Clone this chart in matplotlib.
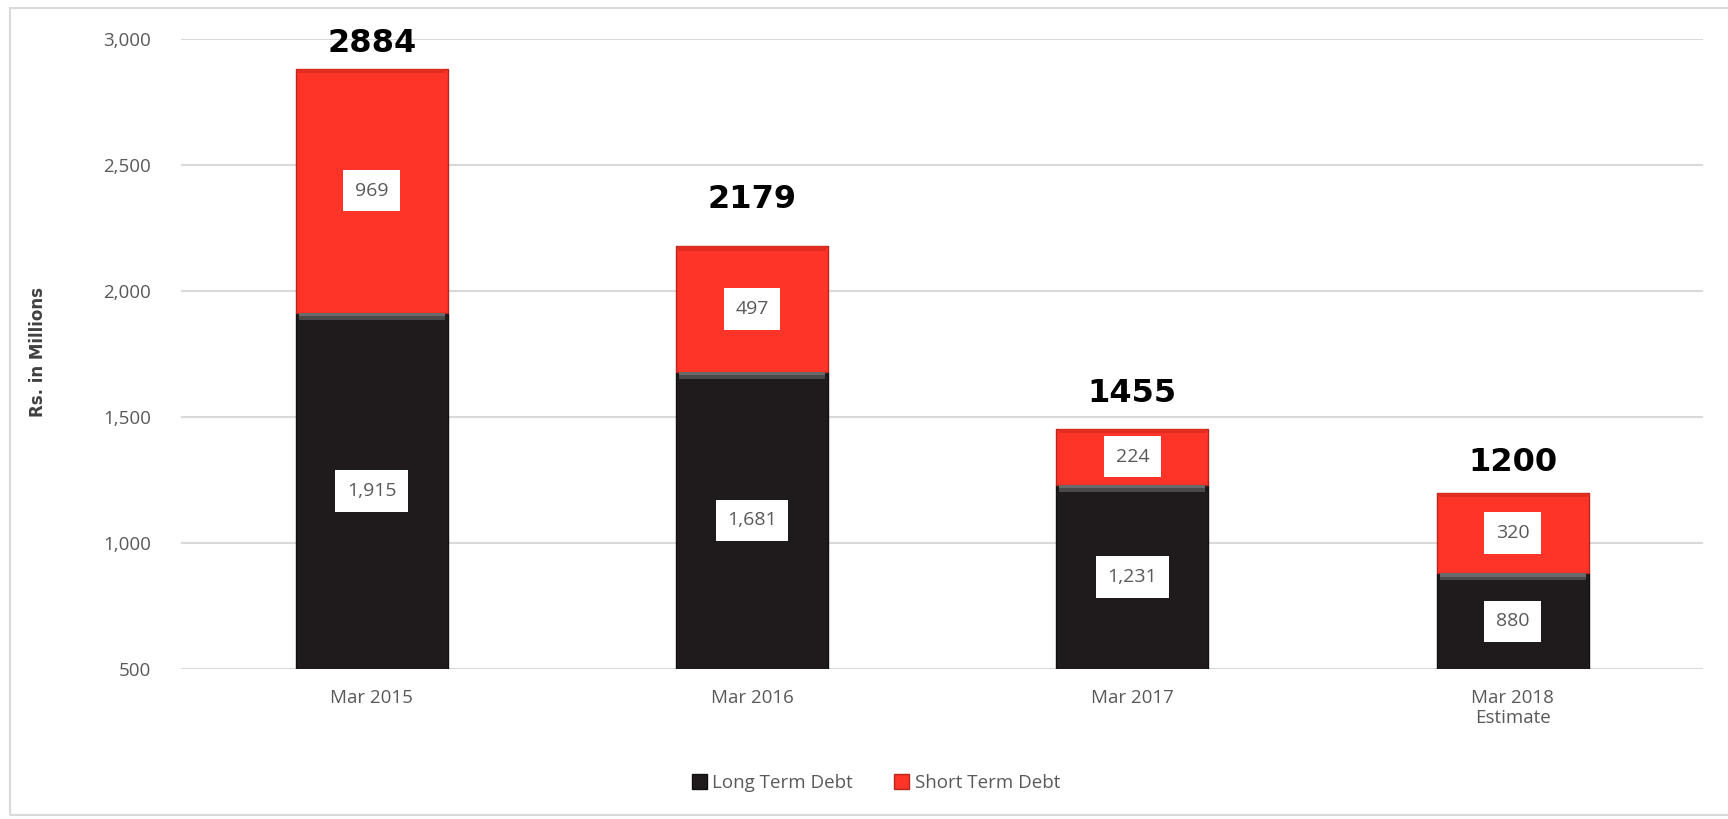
import matplotlib.pyplot as plt
import numpy as np
from matplotlib.patches import Rectangle

# data
categories = ['Mar 2015', 'Mar 2016', 'Mar 2017', 'Mar 2018\nEstimate']
long_term = [1915, 1681, 1231, 880]
short_term = [969, 497, 224, 320]
totals = [2884, 2179, 1455, 1200]
yticks = [500, 1000, 1500, 2000, 2500, 3000]

plt.rcParams['font.family'] = ['Open Sans', 'DejaVu Sans']

BLACK = '#1f1b1c'
RED = '#fd3427'
GRAY_TXT = '#595959'

fig = plt.figure(figsize=(17.28, 8.19), dpi=100)
ax = fig.add_axes([0.105, 0.183, 0.8805, 0.769])

x = np.arange(len(categories))
w = 0.4
lt = np.array(long_term)
st = np.array(short_term)

ax.bar(x, lt, w, color=BLACK, edgecolor='#111111', linewidth=1, zorder=3, label='Long Term Debt')
ax.bar(x, st, w, bottom=lt, color=RED, edgecolor='#b8261d', linewidth=1, zorder=3, label='Short Term Debt')

# bevel hints at the top of each segment
bev = 28
ax.bar(x, np.full(4, bev), w * 0.96, bottom=lt - bev, color='#4a4a4a', zorder=4, linewidth=0)
ax.bar(x, np.full(4, bev * 0.5), w * 0.96, bottom=lt - bev * 0.5, color='#6a6a6a', zorder=4, linewidth=0)
ax.bar(x, np.full(4, bev * 0.6), w * 0.97, bottom=lt + st - bev * 0.6, color='#e02d22', zorder=4, linewidth=0)

ymin, ymax = 500, 3000
ax.set_ylim(ymin, ymax)
ax.set_xlim(-0.5, len(categories) - 0.5)

box = dict(boxstyle='square,pad=0.6', facecolor='white', edgecolor='none')
for i in range(len(categories)):
    lo = max(ymin, 0)
    ax.text(x[i], (lo + lt[i]) / 2, f'{long_term[i]:,}', ha='center', va='center',
            fontsize=14, color=GRAY_TXT, bbox=box, zorder=6)
    ax.text(x[i], lt[i] + st[i] / 2, f'{short_term[i]:,}', ha='center', va='center',
            fontsize=14, color=GRAY_TXT, bbox=box, zorder=6)

# bold totals above bars
offsets = [18, 34, 25, 22]
for i, t in enumerate(totals):
    ax.annotate(str(t), (x[i], lt[i] + st[i]), xytext=(0, offsets[i]), textcoords='offset points',
                ha='center', va='center', fontsize=23, fontweight='bold', color='black',
                family=['DejaVu Sans'], zorder=6)

ax.set_yticks(yticks)
ax.set_yticklabels([f'{v:,}' for v in yticks])
ax.set_xticks(x)
ax.set_xticklabels(categories)
ax.tick_params(axis='both', length=0, labelsize=13.5, labelcolor=GRAY_TXT)
ax.tick_params(axis='y', pad=22)
ax.tick_params(axis='x', pad=14)
ax.grid(axis='y', color='#d9d9d9', linewidth=1.5, zorder=0)
ax.set_axisbelow(True)
for s in ax.spines.values():
    s.set_visible(False)

fig.text(38 / 1728, 1 - 352 / 819, 'Rs. in Millions', rotation=90, ha='center', va='center',
         fontsize=12, fontweight='bold', color='#404040', family=['Liberation Sans Narrow', 'DejaVu Sans'])

fig.legend(loc='center', bbox_to_anchor=(876 / 1728, 1 - 783 / 819), ncol=2, frameon=False,
           fontsize=13.5, labelcolor=GRAY_TXT, handlelength=0.8, handleheight=0.8,
           handletextpad=0.3, columnspacing=2.2)

# outer chart border
fig.patches.append(Rectangle((10 / 1728, 4 / 819), 1.0, 1 - 12 / 819, transform=fig.transFigure,
                             fill=False, edgecolor='#d9d9d9', linewidth=1.5))

fig.savefig('out.png', dpi=100, facecolor='white')
